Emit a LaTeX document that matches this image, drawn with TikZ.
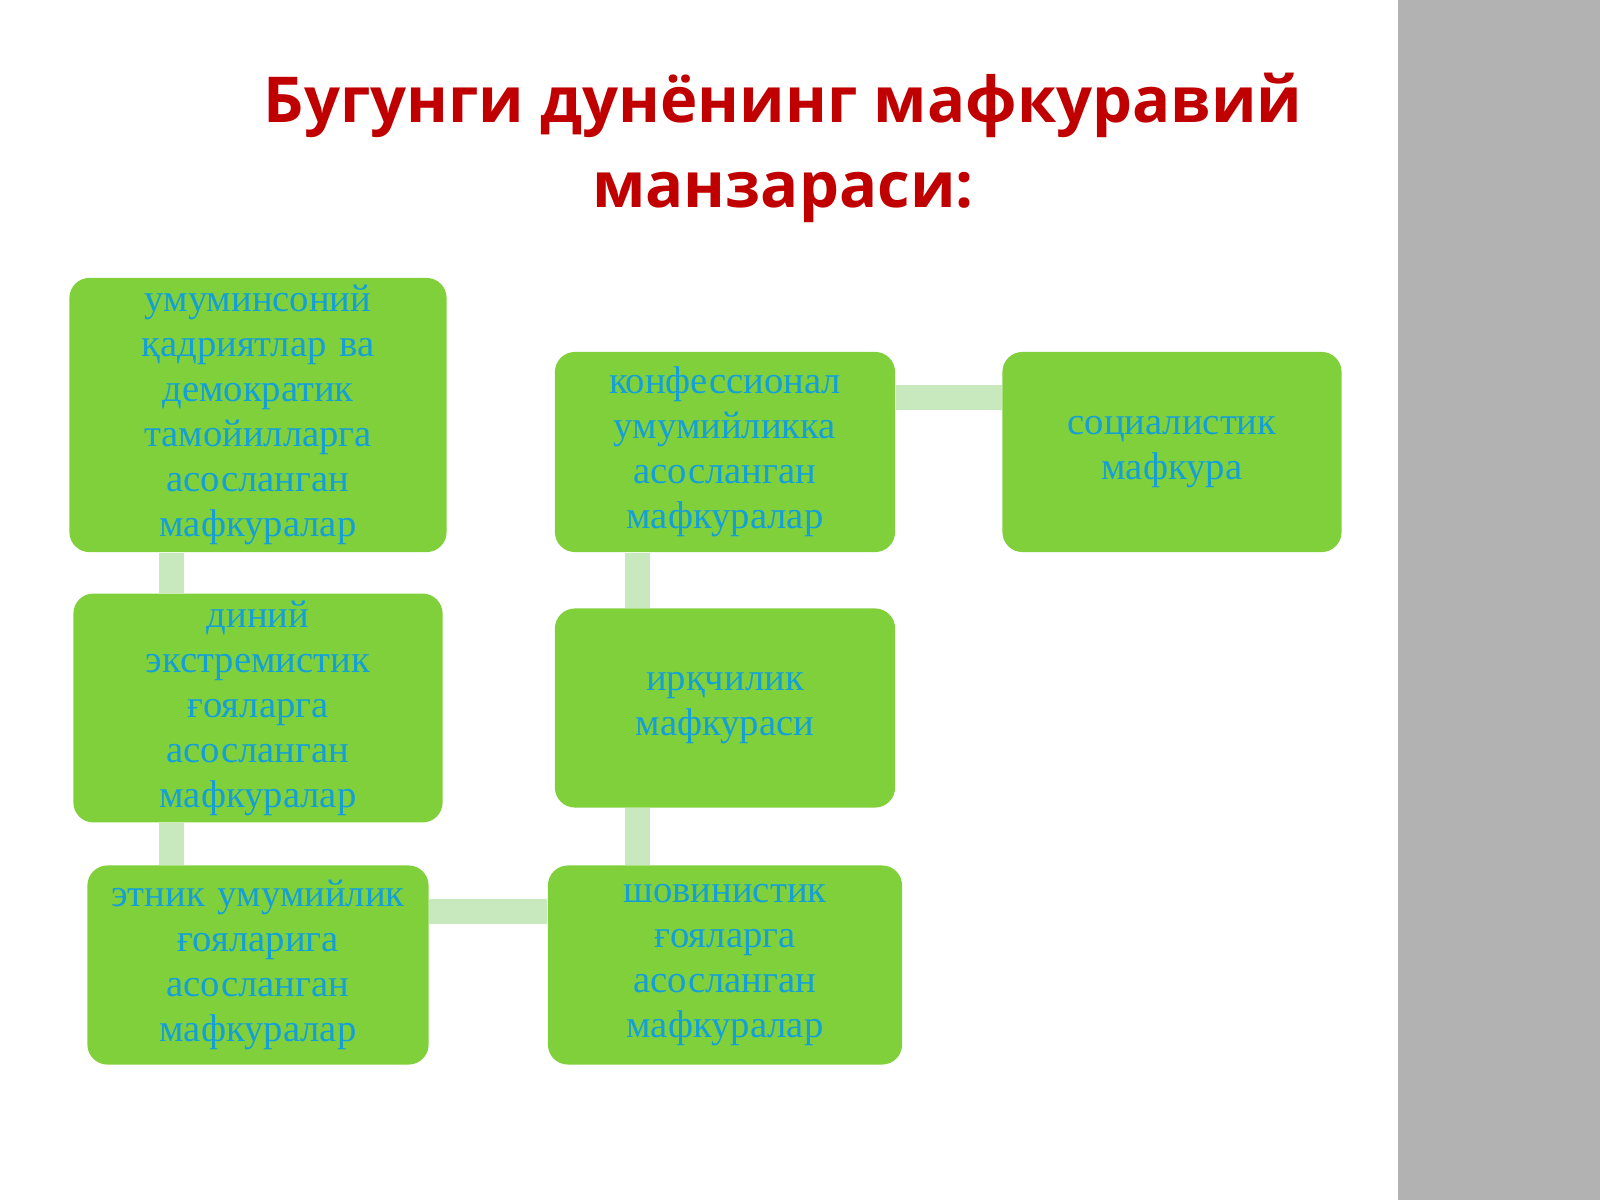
\documentclass[tikz,border=0pt]{standalone}
\usepackage{fontspec}
\setmainfont{Liberation Serif}
\newfontfamily\titlefont{Open Sans}
\usetikzlibrary{positioning}
\definecolor{boxgreen}{RGB}{128,208,60}
\definecolor{linkgreen}{RGB}{200,232,190}
\definecolor{textblue}{RGB}{20,160,215}
\definecolor{titlered}{RGB}{192,0,0}
\definecolor{panelgray}{RGB}{178,178,178}
\begin{document}
\begin{tikzpicture}[x=0.01cm,y=-0.01cm,
	box/.style={fill=boxgreen,rounded corners=0.2cm,align=center,text=textblue,
		font=\fontsize{11}{12.8}\selectfont,inner sep=2pt},
	link/.style={linkgreen,line width=0.25cm}]
		\useasboundingbox (0,0) rectangle (1600,1200);
		\fill[panelgray] (1398,0) rectangle (1600,1200);
		\node[text=titlered,font=\titlefont\bfseries\fontsize{18}{24}\selectfont,align=center] (title) at (783,148)
			{Бугунги дунёнинг мафкуравий\\манзараси:};
		% left column
		\node[box,minimum width=3.77cm,minimum height=2.74cm,text width=2.4cm] (insoniy) at (258,415)
			{умуминсоний қадриятлар ва демократик тамойилларга асосланган мафкуралар};
		\node[box,minimum width=3.69cm,minimum height=1.99cm,text width=3.3cm] (diniy) at (258,708)
			{диний экстремистик ғояларга асосланган мафкуралар};
		\node[box,minimum width=3.41cm,minimum height=1.99cm,text width=3.0cm] (etnik) at (258,965)
			{этник умумийлик ғояларига асосланган мафкуралар};
		% middle column
		\node[box,minimum width=3.40cm,minimum height=2.00cm,text width=2.4cm] (konfes) at (725,452)
			{конфессионал умумийликка асосланган мафкуралар};
		\node[box,minimum width=3.40cm,minimum height=1.99cm,text width=2.4cm] (irqchi) at (725,708)
			{ирқчилик мафкураси};
		\node[box,minimum width=3.54cm,minimum height=1.99cm,text width=3.3cm] (shovin) at (725,965)
			{шовинистик ғояларга асосланган мафкуралар};
		% right column
		\node[box,minimum width=3.39cm,minimum height=2.00cm,text width=2.4cm] (social) at (1172,452)
			{социалистик мафкура};
		% links
		\draw[link] ([xshift=-0.86cm]insoniy.south) -- ([xshift=-0.86cm]insoniy.south |- diniy.north);
		\draw[link] ([xshift=-0.86cm]diniy.south) -- ([xshift=-0.86cm]diniy.south |- etnik.north);
		\draw[link] ([yshift=0.53cm]etnik.east) -- ([yshift=0.53cm]etnik.east -| shovin.west);
		\draw[link] ([xshift=-0.87cm]konfes.south) -- ([xshift=-0.87cm]konfes.south |- irqchi.north);
		\draw[link] ([xshift=-0.87cm]irqchi.south) -- ([xshift=-0.87cm]irqchi.south |- shovin.north);
		\draw[link] ([yshift=0.54cm]konfes.east) -- ([yshift=0.54cm]konfes.east -| social.west);
\end{tikzpicture}
\end{document}
